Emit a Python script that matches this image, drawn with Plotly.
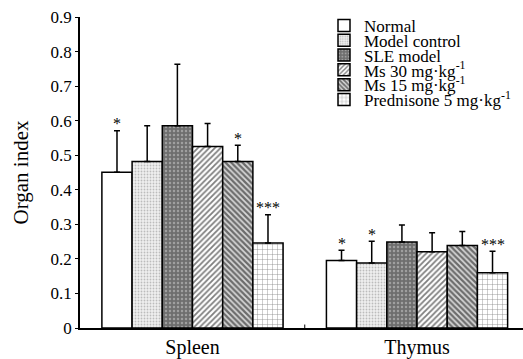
import plotly.graph_objects as go

organs = ["Spleen", "Thymus"]
groups = ["Normal", "Model control", "SLE model",
          "Ms 30 mg·kg<sup>-1</sup>", "Ms 15 mg·kg<sup>-1</sup>",
          "Prednisone 5 mg·kg<sup>-1</sup>"]
# mean organ index per group: [Spleen, Thymus]
means = [
    [0.451, 0.195],
    [0.482, 0.188],
    [0.585, 0.249],
    [0.525, 0.221],
    [0.482, 0.239],
    [0.246, 0.160],
]
# upper SD
sds = [
    [0.120, 0.030],
    [0.103, 0.063],
    [0.178, 0.049],
    [0.067, 0.055],
    [0.047, 0.040],
    [0.082, 0.062],
]
marks = [
    ["*", "*"],
    ["", "*"],
    ["", ""],
    ["", ""],
    ["*", ""],
    ["***", "***"],
]
y_ticks = [0, 0.1, 0.2, 0.3, 0.4, 0.5, 0.6, 0.7, 0.8, 0.9]
legend_rows_px = [26, 41, 56, 71, 86, 101]

patterns = [
    dict(shape="", bgcolor="white", fgcolor="white"),
    dict(shape=".", bgcolor="#f0f0f0", fgcolor="#888888", size=3, solidity=0.3),
    dict(shape=".", bgcolor="#6e6e6e", fgcolor="#d0d0d0", size=4, solidity=0.3),
    dict(shape="/", bgcolor="white", fgcolor="black", size=4, solidity=0.45),
    dict(shape="\\", bgcolor="#d8d8d8", fgcolor="black", size=4, solidity=0.55),
    dict(shape="+", bgcolor="white", fgcolor="black", size=5, solidity=0.15),
]

W = 0.1345
FONT = "Liberation Serif"
L, T, B, R = 80, 17, 27, 0
WIDTH, HEIGHT = 523, 359
plot_h = HEIGHT - T - B
plot_w = WIDTH - L - R

fig = go.Figure()
annotations = []
for i, name in enumerate(groups):
    xs = [g + (i - 2.5) * W for g in range(len(organs))]
    fig.add_trace(go.Bar(
        x=xs, y=means[i], width=W, name=name,
        legend="legend" if i == 0 else f"legend{i+1}",
        marker=dict(color="white", line=dict(color="black", width=1.5),
                    pattern=patterns[i]),
        error_y=dict(type="data", symmetric=False, array=sds[i],
                     arrayminus=[0, 0], color="black", thickness=1.5, width=3),
    ))
    for x, m, s, t in zip(xs, means[i], sds[i], marks[i]):
        if t:
            annotations.append(dict(x=x, y=m + s, text=t, showarrow=False,
                                    xref="x", yref="y", yanchor="middle",
                                    yshift=7, font=dict(family=FONT, size=16, color="#000000")))

legend_left_px = 324
layout_legends = {}
for i, ypx in enumerate(legend_rows_px):
    key = "legend" if i == 0 else f"legend{i+1}"
    layout_legends[key] = dict(
        x=(legend_left_px - L) / plot_w, xanchor="left",
        y=(HEIGHT - B - ypx) / plot_h, yanchor="middle",
        bgcolor="rgba(0,0,0,0)", borderwidth=0,
        font=dict(family=FONT, size=17, color="black"),
    )

fig.update_layout(
    width=WIDTH, height=HEIGHT,
    margin=dict(l=L, r=R, t=T, b=B),
    plot_bgcolor="white", paper_bgcolor="white",
    barmode="overlay", showlegend=True,
    annotations=annotations,
    font=dict(family=FONT, color="black"),
    shapes=[dict(type="line", xref="x", yref="y", x0=0.5, x1=0.5, y0=0, y1=0.01,
                 line=dict(color="black", width=1))],
    **layout_legends,
)
fig.update_xaxes(
    range=[-0.501, 1.472], tickvals=list(range(len(organs))), ticktext=organs,
    ticks="", showgrid=False, zeroline=False, showline=True,
    linecolor="black", linewidth=1.5,
    tickfont=dict(family=FONT, size=20, color="black"),
)
fig.update_yaxes(
    range=[0, 0.9], tickvals=y_ticks, ticktext=[f"{v:g}" for v in y_ticks],
    ticks="outside", ticklen=3, tickcolor="black", showgrid=False, zeroline=False,
    showline=True, linecolor="black", linewidth=1.5,
    tickfont=dict(family=FONT, size=17, color="black"),
    title=dict(text="Organ index", font=dict(family=FONT, size=21, color="black"), standoff=16),
)

fig.write_html("out.html")
